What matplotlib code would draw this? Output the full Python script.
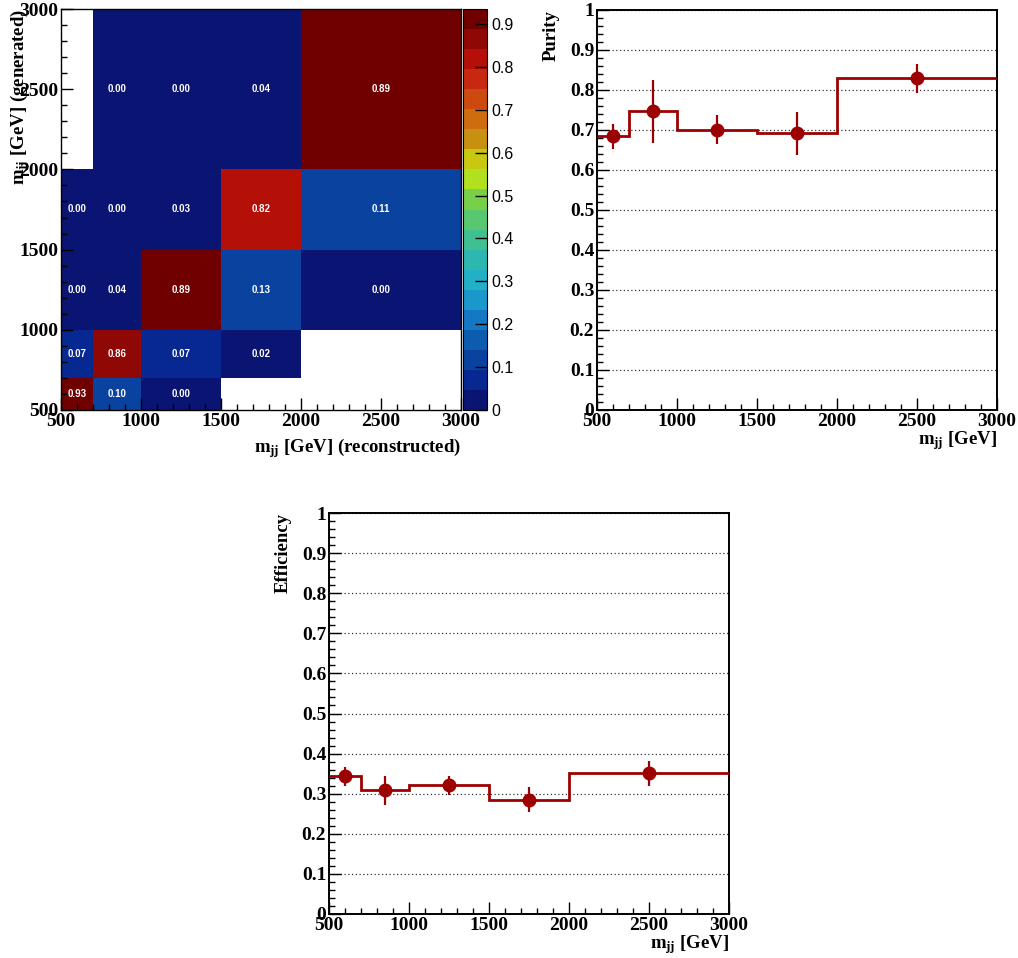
import numpy as np
import matplotlib
matplotlib.use("Agg")
import matplotlib.pyplot as plt
from matplotlib.colors import ListedColormap, BoundaryNorm
from matplotlib.ticker import MultipleLocator, FixedLocator, FuncFormatter

plt.rcParams['mathtext.fontset'] = 'custom'
plt.rcParams['mathtext.rm'] = 'Liberation Serif:bold'
plt.rcParams['mathtext.it'] = 'Liberation Serif:bold'
plt.rcParams['mathtext.bf'] = 'Liberation Serif:bold'

# ---------------- data ----------------
bin_edges = [500, 700, 1000, 1500, 2000, 3000]
bin_centers = [600, 850, 1250, 1750, 2500]
nan = np.nan
# rows: generated bins (low -> high), columns: reconstructed bins (low -> high)
migration_row_500_700 = [0.93, 0.10, 0.00, nan, nan]
migration_row_700_1000 = [0.07, 0.86, 0.07, 0.02, nan]
migration_row_1000_1500 = [0.00, 0.04, 0.89, 0.13, 0.00]
migration_row_1500_2000 = [0.00, 0.00, 0.03, 0.82, 0.11]
migration_row_2000_3000 = [nan, 0.00, 0.00, 0.04, 0.89]
z_max = 0.935
z_ticks = [0, 0.1, 0.2, 0.3, 0.4, 0.5, 0.6, 0.7, 0.8, 0.9]

purity = [0.684, 0.747, 0.701, 0.692, 0.829]
purity_err = [0.032, 0.079, 0.037, 0.054, 0.037]
efficiency = [0.343, 0.308, 0.321, 0.285, 0.351]
efficiency_err = [0.024, 0.036, 0.023, 0.031, 0.031]

x_ticks = [500, 1000, 1500, 2000, 2500, 3000]
y_ticks = [0, 0.1, 0.2, 0.3, 0.4, 0.5, 0.6, 0.7, 0.8, 0.9, 1]

# ---------------- style ----------------
palette = ['#0a1472', '#062890', '#0a42a0', '#0c5cb0', '#1478c4', '#1a98cc',
           '#22b0c8', '#2cb8b0', '#40c090', '#58c870', '#78d048', '#b0e020',
           '#c8c810', '#c89010', '#d06c10', '#cc4a10', '#c82810', '#b41008',
           '#900806', '#700000']
LINE_COLOR = '#9c0000'
SERIF = 'Liberation Serif'
SANS = 'Liberation Sans'
TICK_FS = 14
TITLE_FS = 13.5

W, H = 1018, 958
fig = plt.figure(figsize=(W / 100, H / 100), dpi=100)
fig.patch.set_facecolor('white')


def px_axes(x0, y0, x1, y1):
    return fig.add_axes([x0 / W, 1 - y1 / H, (x1 - x0) / W, (y1 - y0) / H])


def style_ticks(ax):
    ax.tick_params(which='major', direction='in', length=8.6, width=1,
                   top=False, right=False, pad=2)
    ax.tick_params(which='minor', direction='in', length=4.3, width=1,
                   top=False, right=False)
    for lab in ax.get_xticklabels() + ax.get_yticklabels():
        lab.set_fontfamily(SERIF)
        lab.set_fontweight('bold')
        lab.set_fontsize(TICK_FS)
    for sp in ax.spines.values():
        sp.set_linewidth(1.4)


fmt_g = FuncFormatter(lambda v, p: f"{v:g}")

# ---------------- 2D migration matrix ----------------
ax2d = px_axes(61, 9, 461, 410)
matrix = np.array([migration_row_500_700, migration_row_700_1000,
                   migration_row_1000_1500, migration_row_1500_2000,
                   migration_row_2000_3000])
cmap = ListedColormap(palette)
cmap.set_bad('white')
norm = BoundaryNorm(np.linspace(0, z_max, len(palette) + 1), len(palette))
mesh = ax2d.pcolormesh(bin_edges, bin_edges, np.ma.masked_invalid(matrix),
                       cmap=cmap, norm=norm)
edges = np.array(bin_edges)
xc = 0.5 * (edges[:-1] + edges[1:])
for i in range(matrix.shape[0]):
    for j in range(matrix.shape[1]):
        v = matrix[i, j]
        if not np.isnan(v):
            ax2d.text(xc[j], xc[i], f"{v:.2f}", ha='center', va='center',
                      color='white', fontsize=7, family=SANS, weight='bold')
ax2d.set_xlim(500, 3000)
ax2d.set_ylim(500, 3000)
ax2d.xaxis.set_major_locator(FixedLocator(x_ticks))
ax2d.yaxis.set_major_locator(FixedLocator(x_ticks))
ax2d.xaxis.set_minor_locator(MultipleLocator(100))
ax2d.yaxis.set_minor_locator(MultipleLocator(100))
style_ticks(ax2d)
for sp in ax2d.spines.values():
    sp.set_linewidth(1.0)
ax2d.text(1.0, -0.105, r"$m_{jj}$ [GeV] (reconstructed)", transform=ax2d.transAxes,
          ha='right', va='baseline', family=SERIF, weight='bold', fontsize=TITLE_FS)
ax2d.text(-0.1025, 1.0, r"$m_{jj}$ [GeV] (generated)", transform=ax2d.transAxes,
          ha='right', va='center', rotation=90, rotation_mode='anchor',
          family=SERIF, weight='bold', fontsize=TITLE_FS)

cax = px_axes(463, 9, 487, 410)
cb = fig.colorbar(mesh, cax=cax, ticks=z_ticks)
cb.ax.set_ylim(0, z_max)
cb.ax.yaxis.set_major_formatter(fmt_g)
cb.ax.tick_params(direction='in', length=8.6, width=1, labelsize=11.5, pad=3)
cb.ax.minorticks_off()
for lab in cb.ax.get_yticklabels():
    lab.set_fontfamily(SANS)
cb.outline.set_linewidth(0.8)


# ---------------- 1D panels ----------------
def ratio_panel(ax, values, errors, ylabel):
    ax.stairs(values, bin_edges, baseline=None, color=LINE_COLOR, lw=2, zorder=3)
    ax.errorbar(bin_centers, values, yerr=errors, fmt='o', color=LINE_COLOR,
                ms=9, elinewidth=1.6, capsize=0, zorder=4)
    ax.set_xlim(500, 3000)
    ax.set_ylim(0, 1)
    ax.xaxis.set_major_locator(FixedLocator(x_ticks))
    ax.xaxis.set_minor_locator(MultipleLocator(100))
    ax.yaxis.set_major_locator(FixedLocator(y_ticks))
    ax.yaxis.set_minor_locator(MultipleLocator(0.02))
    ax.yaxis.set_major_formatter(fmt_g)
    ax.set_axisbelow(True)
    ax.yaxis.grid(True, which='major', linestyle=(0, (1, 2)), color='#333333', lw=0.9)
    style_ticks(ax)
    ax.text(1.0, -0.085, r"$m_{jj}$ [GeV]", transform=ax.transAxes,
            ha='right', va='baseline', family=SERIF, weight='bold', fontsize=TITLE_FS)
    ax.text(-0.115, 1.0, ylabel, transform=ax.transAxes, ha='right', va='center',
            rotation=90, rotation_mode='anchor', family=SERIF, weight='bold',
            fontsize=TITLE_FS)


ax_pur = px_axes(597, 10, 997, 410)
ratio_panel(ax_pur, purity, purity_err, "Purity")

ax_eff = px_axes(329, 513, 729, 914)
ratio_panel(ax_eff, efficiency, efficiency_err, "Efficiency")

fig.savefig("out.png", dpi=100, facecolor='white')
